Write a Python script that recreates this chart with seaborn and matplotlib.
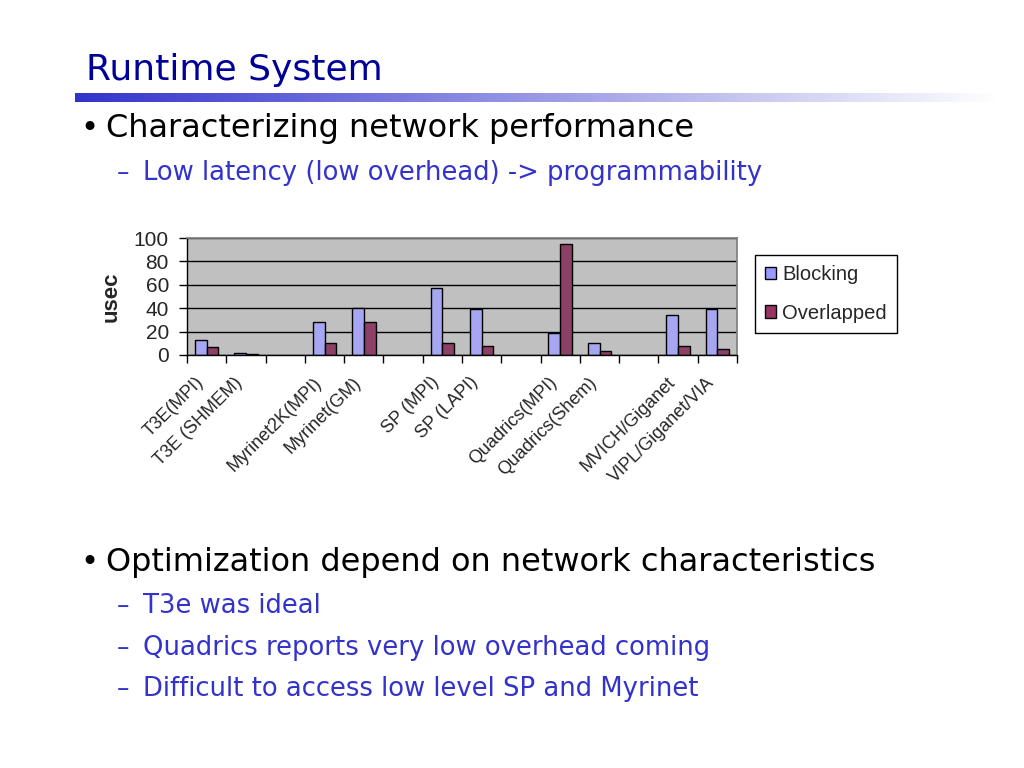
import numpy as np
import pandas as pd
import matplotlib
matplotlib.use("Agg")
import matplotlib.pyplot as plt
import seaborn as sns
from matplotlib.patches import Patch

# data
systems = ["T3E(MPI)", "T3E (SHMEM)", "Myrinet2K(MPI)", "Myrinet(GM)",
           "SP (MPI)", "SP (LAPI)", "Quadrics(MPI)", "Quadrics(Shem)",
           "MVICH/Giganet", "VIPL/Giganet/VIA"]
blocking = [13, 2, 28, 40, 57, 39, 19, 10, 34, 39]
overlapped = [7, 0.5, 10, 28, 10, 8, 95, 3, 8, 5]
# slot order with empty gaps between system families
order = ["T3E(MPI)", "T3E (SHMEM)", " ", "Myrinet2K(MPI)", "Myrinet(GM)", "  ",
         "SP (MPI)", "SP (LAPI)", "   ", "Quadrics(MPI)", "Quadrics(Shem)", "    ",
         "MVICH/Giganet", "VIPL/Giganet/VIA"]
y_ticks = [0, 20, 40, 60, 80, 100]

df = pd.DataFrame({
    "system": systems * 2,
    "usec": blocking + overlapped,
    "series": ["Blocking"] * len(systems) + ["Overlapped"] * len(systems),
})

sns.set_theme(style="white")
plt.rcParams["font.family"] = ["DejaVu Sans"]

fig = plt.figure(figsize=(10.24, 7.68), dpi=100)
W, H = 1024, 768

# slide header
fig.text(86 / W, 1 - 70 / H, "Runtime System", fontsize=26, color="#000099",
         va="center", ha="left")
grad_ax = fig.add_axes([75 / W, 1 - 102 / H, 925 / W, 9 / H])
grad = np.linspace(0, 1, 256).reshape(1, -1)
start = np.array([0.2, 0.2, 0.8])
rgb = start[None, None, :] * (1 - grad[..., None]) + np.ones(3)[None, None, :] * grad[..., None]
grad_ax.imshow(rgb, aspect="auto", extent=[0, 1, 0, 1])
grad_ax.axis("off")

def bullet(y, text):
    fig.text(80 / W, 1 - y / H, "•", fontsize=22, color="black", va="center")
    fig.text(106 / W, 1 - y / H, text, fontsize=23, color="black", va="center")

def sub(y, text):
    fig.text(117 / W, 1 - y / H, "–", fontsize=18, color="#3333CC", va="center")
    fig.text(143 / W, 1 - y / H, text, fontsize=18.6, color="#3333CC", va="center")

bullet(128, "Characterizing network performance")
sub(173, "Low latency (low overhead) -> programmability")
bullet(563, "Optimization depend on network characteristics")
sub(606, "T3e was ideal")
sub(648, "Quadrics reports very low overhead coming")
sub(689, "Difficult to access low level SP and Myrinet")

# chart
ax = fig.add_axes([187 / W, 1 - 355 / H, 550 / W, 117 / H])
sns.barplot(data=df, x="system", y="usec", hue="series", order=order,
            palette={"Blocking": "#9999FF", "Overlapped": "#993366"},
            edgecolor="black", linewidth=1, width=0.6, ax=ax, legend=False)
ax.set_facecolor("#C0C0C0")
ax.set_ylim(0, 100)
ax.set_xlim(-0.5, len(order) - 0.5)
ax.set_yticks(y_ticks)
ax.yaxis.grid(True, color="black", linewidth=1)
ax.set_axisbelow(True)
ax.set_xlabel("")
ax.set_ylabel("usec", fontsize=16, fontweight="bold", family="Liberation Sans", labelpad=9)
for s in ["top", "right"]:
    ax.spines[s].set_color("#808080")
for s in ["left", "bottom"]:
    ax.spines[s].set_color("black")
    ax.spines[s].set_linewidth(1)

# labels sit a touch left of the slot centre (invisible major ticks)
ax.set_xticks(np.arange(len(order)) - 0.15)
ax.set_xticklabels(order, rotation=45, ha="right", va="center", rotation_mode="anchor",
                   fontsize=13, family="Liberation Sans")
ax.tick_params(axis="x", which="major", length=0, pad=18)
ax.set_xticks(np.arange(-0.5, len(order), 1), minor=True)
ax.tick_params(axis="x", which="minor", bottom=True, length=6, color="black", width=1, direction="out")
ax.tick_params(axis="y", left=True, length=6, color="black", width=1, direction="out", pad=7)
for lab in ax.get_yticklabels():
    lab.set_fontsize(15)
    lab.set_family("Liberation Sans")

handles = [Patch(facecolor="#9999FF", edgecolor="black", label="Blocking"),
           Patch(facecolor="#993366", edgecolor="black", label="Overlapped")]
leg = fig.legend(handles=handles, loc="center left", bbox_to_anchor=(755 / W, 1 - 294 / H),
                 frameon=True, fancybox=False, edgecolor="black", framealpha=1,
                 prop={"family": "Liberation Sans", "size": 14.5},
                 handlelength=0.55, handleheight=0.55, handletextpad=0.3,
                 borderpad=0.5, labelspacing=0.95, borderaxespad=0)
leg.get_frame().set_linewidth(1)

fig.savefig("out.png", dpi=100)
